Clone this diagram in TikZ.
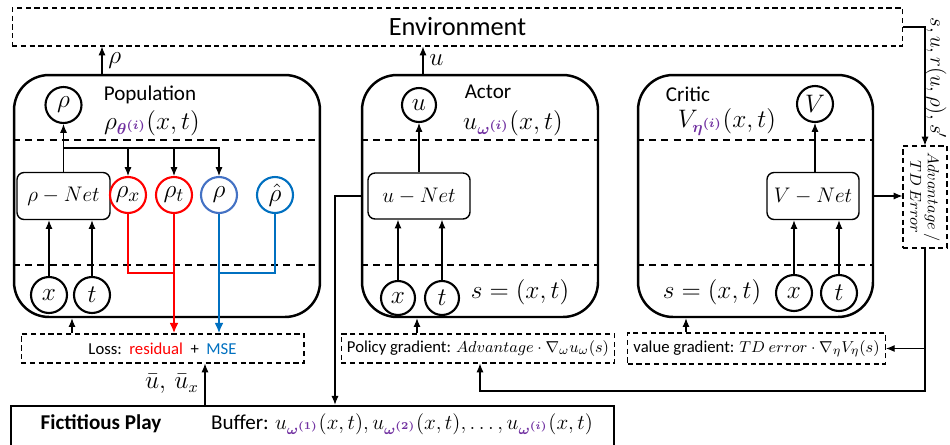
\documentclass[tikz,border=0pt]{standalone}
\usepackage{amsmath}
\usepackage{bm}
\usepackage{fontspec}
\setmainfont{Carlito}
\usepackage{tikz}
\usetikzlibrary{arrows.meta}

\definecolor{paramviolet}{HTML}{7030A0}
\definecolor{lossred}{HTML}{FF0000}
\definecolor{rhoblue}{HTML}{4472C4}
\definecolor{mseblue}{HTML}{0070C0}

\newcommand{\param}[1]{{\color{paramviolet}\bm{#1}}}

\begin{document}
\begin{tikzpicture}[x=0.02cm, y=-0.02cm,
  module/.style={draw, line width=1.4pt, rounded corners=0.7cm, minimum width=6.12cm, minimum height=4.84cm},
  netbox/.style={draw, line width=0.8pt, rounded corners=4pt, minimum height=0.94cm, font=\fontsize{12.5}{14}\selectfont},
  var/.style={circle, draw, line width=1.2pt, minimum size=0.72cm, inner sep=0pt, font=\fontsize{15}{17}\selectfont},
  dashbox/.style={draw, dash pattern=on 3pt off 2pt, line width=0.6pt, minimum height=0.58cm, font=\fontsize{9.5}{11}\selectfont},
  sep/.style={dash pattern=on 4pt off 3pt, line width=0.6pt},
  flow/.style={-{Latex[length=5pt,width=4pt]}, line width=0.6pt},
  title/.style={font=\fontsize{12}{14}\selectfont},
  mathlbl/.style={font=\fontsize{13.5}{15}\selectfont},
]
\clip (0,0) rectangle (950,444);
\useasboundingbox (0,0) rectangle (950,444);

% environment
\node[dashbox, minimum width=17.82cm, minimum height=0.76cm, font=\fontsize{15}{17}\selectfont] (env) at (457.5,27) {Environment};

% the three modules
\node[module] (pop) at (167,196) {};
\node[module, minimum width=4.72cm] (actor) at (480,196) {};
\node[module, minimum width=4.7cm] (critic) at (755.5,196) {};
\foreach \m in {pop,actor,critic} {
  \draw[sep] (\m.west |- 0,140) -- (\m.east |- 0,140);
  \draw[sep] (\m.west |- 0,265) -- (\m.east |- 0,265);
}

% population
\node[title] (poptitle) at (150,95) {Population};
\node[mathlbl] (popfun) at (152,123) {$\rho_{\param{\theta^{(i)}}}(x,t)$};
\node[var] (rhoout) at (63.5,105) {$\rho$};
\node[netbox, minimum width=1.86cm] (rhonet) at (63.5,196) {$\rho-Net$};
\node[var, draw=lossred] (rhox) at (128,195) {$\rho_x$};
\node[var, draw=lossred] (rhot) at (174,195) {$\rho_t$};
\node[var, draw=rhoblue] (rhob) at (219,195) {$\rho$};
\node[var, draw=mseblue] (rhohat) at (275,195) {$\hat\rho$};
\node[var] (px) at (49,295) {$x$};
\node[var] (pt) at (92,295) {$t$};

\coordinate (split) at (63.5,148);
\draw[flow] (rhonet.north) -- (rhoout.south);
\draw[flow] (split) -| (rhox.north);
\draw[flow] (split) -| (rhot.north);
\draw[flow] (split) -| (rhob.north);
\draw[flow] (px.north) -- (px.north |- rhonet.south);
\draw[flow] (pt.north) -- (pt.north |- rhonet.south);

% loss
\node[dashbox, minimum width=5.66cm] (loss) at (162.5,348.5)
  {Loss:~~{\color{lossred}residual}~~+~~{\color{mseblue}MSE}};
\coordinate (redjoin) at (174,273);
\coordinate (bluejoin) at (219,273);
\draw[lossred, line width=0.7pt] (rhox.south) |- (redjoin);
\draw[lossred, line width=0.7pt] (rhot.south) -- (redjoin);
\draw[lossred, line width=1.3pt, -{Latex[length=6pt,width=5pt]}] (redjoin) -- (redjoin |- loss.north);
\draw[mseblue, line width=0.7pt] (rhohat.south) |- (bluejoin);
\draw[mseblue, line width=0.7pt] (rhob.south) -- (bluejoin);
\draw[mseblue, line width=1.3pt, -{Latex[length=6pt,width=5pt]}] (bluejoin) -- (bluejoin |- loss.north);
\draw[flow] (loss.north -| 72,0) -- (pop.south -| 72,0);

% actor
\node[title] (actortitle) at (488,92) {Actor};
\node[mathlbl] (actorfun) at (513,123) {$u_{\param{\omega^{(i)}}}(x,t)$};
\node[var, minimum size=0.68cm] (uout) at (419,105) {$u$};
\node[netbox, minimum width=2.04cm, minimum height=0.92cm] (unet) at (419,196) {$u-Net$};
\node[var, minimum size=0.68cm] (ax) at (398,298) {$x$};
\node[var, minimum size=0.68cm] (at) at (442,298) {$t$};
\node[mathlbl] (actorstate) at (520,292) {$s=(x,t)$};
\draw[flow] (unet.north) -- (uout.south);
\draw[flow] (ax.north) -- (ax.north |- unet.south);
\draw[flow] (at.north) -- (at.north |- unet.south);

\node[dashbox, minimum width=5.44cm] (policy) at (478,348.5)
  {Policy gradient: $Advantage\cdot\nabla_{\omega}u_{\omega}(s)$};
\draw[flow] (policy.north -| 417,0) -- (actor.south -| 417,0);

% critic
\node[title] (critictitle) at (688,94) {Critic};
\node[mathlbl] (criticfun) at (727,122) {$V_{\param{\eta^{(i)}}}(x,t)$};
\node[var] (vout) at (815,104) {$V$};
\node[netbox, minimum width=1.84cm] (vnet) at (813,196) {$V-Net$};
\node[var] (cx) at (794,293) {$x$};
\node[var] (ct) at (839,293) {$t$};
\node[mathlbl] (criticstate) at (712,292) {$s=(x,t)$};
\draw[flow] (vnet.north -| vout.south) -- (vout.south);
\draw[flow] (cx.north) -- (cx.north |- vnet.south);
\draw[flow] (ct.north) -- (ct.north |- vnet.south);

\node[dashbox, minimum width=5.1cm, minimum height=0.62cm] (value) at (756.5,348.5)
  {value gradient: $TD\ error\cdot\nabla_{\eta}V_{\eta}(s)$};
\draw[flow] (value.north -| 686,0) -- (critic.south -| 686,0);

% advantage / TD error
\node[dashbox, minimum width=0.88cm, minimum height=2.04cm] (adv) at (925,197) {};
\node[rotate=-90, align=center, font=\fontsize{9}{10}\selectfont] (advtext) at (adv.center) {$Advantage\ /$\\$TD\ Error$};
\draw[flow] (env.east) -| (adv.north);
\node[rotate=-90, font=\fontsize{11.5}{13}\selectfont] (transition) at (936,78) {$s,u,r(u,\rho),s'$};
\draw[flow] (critic.east) -- (critic.east -| adv.west);
\coordinate (fbturn) at (480,391);
\draw[flow] (adv.south) |- (fbturn) -- (fbturn |- policy.south);
\draw[flow] (adv.south |- value.east) -- (value.east);

% fictitious play
\node[draw, line width=1.4pt, minimum width=12.06cm, minimum height=0.88cm] (fict) at (312.5,428) {};
\node[font=\fontsize{12}{14}\selectfont\bfseries] (fpname) at (101,424) {Fictitious Play};
\node[font=\fontsize{12}{14}\selectfont] (buffer) at (402,424)
  {Buffer: $u_{\param{\omega^{(1)}}}(x,t),u_{\param{\omega^{(2)}}}(x,t),\dots,u_{\param{\omega^{(i)}}}(x,t)$};
\draw[flow] (fict.north -| 205,0) -- (loss.south -| 205,0) node[midway, left, font=\fontsize{13.5}{15}\selectfont] {$\bar u,\,\bar u_x$};
\coordinate (bufdrop) at (335,196);
\draw[flow] (actor.west) -- (bufdrop) -- (bufdrop |- fict.north);

% outputs to environment
\draw[flow] (pop.north -| 102,0) -- (env.south -| 102,0) node[midway, right, font=\fontsize{14}{16}\selectfont] {$\rho$};
\draw[flow] (actor.north -| 423,0) -- (env.south -| 423,0) node[midway, right, font=\fontsize{14}{16}\selectfont] {$u$};
\end{tikzpicture}
\end{document}
